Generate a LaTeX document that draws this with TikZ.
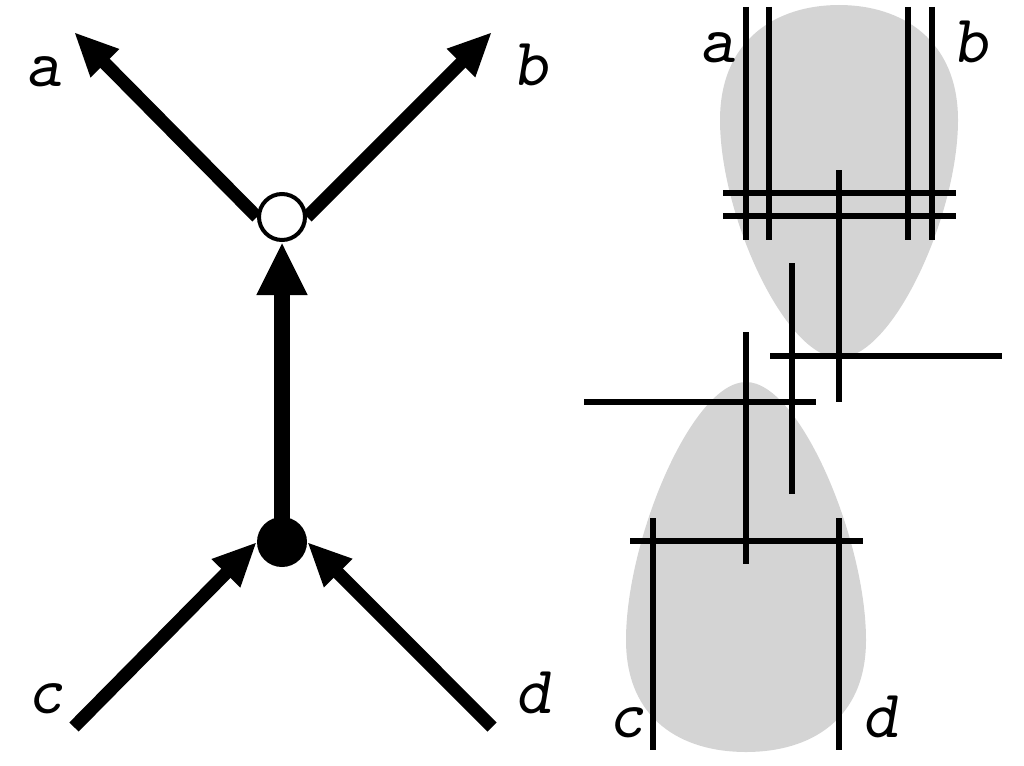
\documentclass[tikz,border=0pt]{standalone}
\usepackage{fontspec}
\usetikzlibrary{arrows.meta,backgrounds}
\definecolor{blobgray}{gray}{0.83}
\begin{document}
\begin{tikzpicture}[x=1pt,y=-1pt,
  lbl/.style={font=\ttfamily\slshape\fontsize{68}{68}\selectfont, anchor=base, inner sep=0pt},
  leg/.style={line width=13pt, -{Triangle[length=44pt,width=37pt]}},
  prop/.style={line width=16pt, -{Triangle[length=53pt,width=47pt]}},
  rl/.style={line width=6.5pt},
  blob/.style={fill=blobgray, draw=none},
  vtxo/.style={circle, inner sep=0pt, minimum size=46pt, line width=4pt, draw=black, fill=white},
  vtxf/.style={circle, inner sep=0pt, minimum size=50pt, fill=black}]
\useasboundingbox (0,0) rectangle (1024,765);
% ---------- left: vertex diagram ----------
\node[vtxo] (o) at (282,217) {};
\node[vtxf] (f) at (282,542) {};
\coordinate (ta) at (74,32);
\coordinate (tb) at (492,32);
\coordinate (tc) at (74,727);
\coordinate (td) at (492,727);
\begin{pgfonlayer}{background}
\draw[leg] (o.west) -- (ta);
\draw[leg] (o.east) -- (tb);
\draw[leg] (tc) -- (f.west);
\draw[leg] (td) -- (f.east);
\draw[prop] (f.center) -- (o.south);
\end{pgfonlayer}
\node[lbl] (la) at (43,87) {a};
\node[lbl] (lb) at (530,86) {b};
\node[lbl] (lc) at (45,713) {c};
\node[lbl] (ld) at (533,713) {d};
% ---------- right: blobs ----------
\path[blob] (839,358) .. controls (785,358) and (720,215) .. (720,120)
  .. controls (720,40) and (776,5) .. (839,5)
  .. controls (902,5) and (958,40) .. (958,120)
  .. controls (958,215) and (893,358) .. (839,358) -- cycle;
\path[blob] (746,382) .. controls (800,382) and (866,540) .. (866,640)
  .. controls (866,720) and (810,752) .. (746,752)
  .. controls (682,752) and (626,720) .. (626,640)
  .. controls (626,540) and (692,382) .. (746,382) -- cycle;
% lines
\draw[rl] (746,7) -- (746,240);
\draw[rl] (769,7) -- (769,240);
\draw[rl] (908,7) -- (908,240);
\draw[rl] (932,7) -- (932,240);
\draw[rl] (723,193) -- (956,193);
\draw[rl] (723,216) -- (956,216);
\draw[rl] (839,170) -- (839,402);
\draw[rl] (792,263) -- (792,494);
\draw[rl] (770,356) -- (1002,356);
\draw[rl] (746,332) -- (746,564);
\draw[rl] (584,402) -- (816,402);
\draw[rl] (630,541) -- (863,541);
\draw[rl] (653,518) -- (653,750);
\draw[rl] (839,518) -- (839,750);
\node[lbl] (ra) at (717,63) {a};
\node[lbl] (rb) at (970,63) {b};
\node[lbl] (rc) at (626,737) {c};
\node[lbl] (rd) at (880,737) {d};
\end{tikzpicture}
\end{document}
